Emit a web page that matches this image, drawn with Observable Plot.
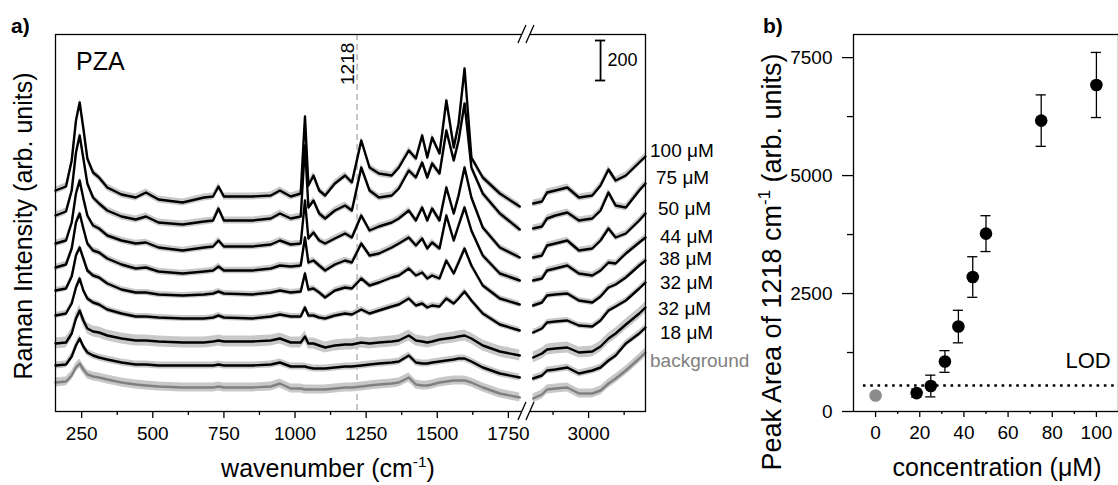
<!DOCTYPE html>
<html><head><meta charset="utf-8">
<script src="https://cdn.jsdelivr.net/npm/d3@7"></script>
<script src="https://cdn.jsdelivr.net/npm/@observablehq/plot@0.6"></script>
<style>
body{margin:0;background:#fff;}
#wrap{position:relative;width:1118px;height:485px;overflow:hidden;}
#left{position:absolute;left:0;top:0;width:730px;height:485px;}
#right{position:absolute;left:730px;top:0;width:388px;height:485px;}
</style></head><body><div id="wrap"><div id="left"></div><div id="right"></div></div>
<script>
// ---------------- DATA ----------------
const wavenumbers = [158,195,215,230,243,256,270,290,311,340, 390,440,476,520,605,680,712,731,750,850,
  915,947,985,1020,1035,1047,1065,1085,1106,1140, 1176,1200,1233,1262,1295,1340,1365,1400,1425,1447,
  1465,1482,1508,1532,1558,1575,1596,1620,1660,1720, 1790,
  2805,2836,2854,2883,2925,2966,3013,3042,3070,3095,3131,3178,3200];
const curveLabels = ["100 \u03bcM","75 \u03bcM","50 \u03bcM","44 \u03bcM","38 \u03bcM","32 \u03bcM","32 \u03bcM","18 \u03bcM","background"];
const spec100 = [1105,1125,1255,1455,1545,1415,1265,1195,1170,1120, 1085,1070,1095,1060,1045,1070,1075,1125,1075,1075,
  1080,1105,1075,1090,1475,1130,1180,1105,1080,1140, 1180,1145,1355,1220,1190,1180,1220,1305,1265,1380,
  1270,1370,1290,1555,1320,1440,1715,1270,1170,1090, 1025,
  1040,1050,1095,1105,1120,1070,1080,1130,1210,1155,1180,1245,1275];
const spec75 = [980,1000,1105,1295,1380,1265,1140,1070,1040,1005, 975,960,975,945,935,950,955,1015,955,955,
  965,990,965,975,1330,1020,1055,990,965,1005, 1030,1005,1220,1105,1070,1080,1115,1205,1170,1245,
  1170,1240,1190,1405,1255,1355,1540,1220,1090,990, 910,
  915,925,965,980,995,955,965,1005,1095,1030,1020,1105,1140];
const spec50 = [840,855,945,1090,1155,1065,980,930,915,880, 855,840,845,820,805,820,825,855,825,825,
  835,855,835,840,1055,865,895,855,840,865, 890,870,980,905,925,945,965,1005,955,1020,
  955,1015,955,1120,990,1080,1220,1070,920,820, 770,
  770,780,830,840,855,805,815,855,915,870,890,955,990];
const spec44 = [720,735,815,945,990,915,840,805,795,765, 735,715,720,700,690,700,705,725,705,705,
  715,730,725,730,870,745,755,730,705,735, 755,745,840,780,790,820,840,870,830,865,
  815,845,815,980,855,930,1020,905,780,690, 655,
  655,665,705,715,730,690,680,705,745,740,790,845,870];
const spec38 = [605,615,675,780,820,765,705,680,670,640, 610,595,595,585,580,585,590,600,590,585,
  595,605,595,600,690,610,615,595,570,605, 620,615,665,630,645,670,680,715,680,695,
  665,680,665,755,690,745,815,730,630,565, 535,
  530,545,580,585,590,555,545,575,620,635,670,730,755];
const spec32a = [480,490,540,620,665,605,565,545,535,510, 490,475,475,470,465,465,470,480,470,465,
  475,485,475,475,520,480,480,470,465,480, 490,485,510,490,505,525,535,565,530,540,
  520,530,525,565,540,565,600,555,490,435, 405,
  395,415,445,450,455,430,425,455,505,525,555,615,645];
const spec32b = [340,345,390,465,505,455,415,400,395,380, 365,355,355,350,345,345,350,355,350,350,
  355,365,345,345,375,340,340,330,320,330, 335,335,345,340,345,350,355,380,355,350,
  345,350,360,365,370,375,380,365,330,300, 280,
  270,290,310,315,320,295,300,325,365,390,435,490,520];
const spec18 = [230,235,275,330,365,325,295,280,270,260, 245,235,235,230,230,230,230,235,230,230,
  235,245,225,225,225,220,215,215,215,220, 225,225,230,235,240,245,250,280,245,240,
  240,245,250,255,260,265,265,250,220,190, 170,
  165,180,205,210,220,190,205,220,255,280,340,390,420];
const specBg = [145,150,180,220,240,210,185,175,170,160, 145,135,130,125,120,120,120,125,120,120,
  125,140,115,115,110,110,110,110,110,115, 120,120,125,130,135,140,145,170,135,130,
  130,135,145,150,155,155,155,145,120,90, 70,
  65,85,110,115,120,90,90,105,140,165,205,265,295];
const spectrumSpread = [17,17,16,16,15,15,28,17,22];
const majorTicksA = [250,500,750,1000,1250,1500,1750,3000];
const minorTicksA = [375,625,875,1125,1375,1625,2875,3125];
const markerWavenumber = 1218;
const scaleBarLength = 200;

const concentration = [0,18.6,25,31.4,37.5,44,50,75,100];
const peakArea = [340,390,540,1060,1800,2850,3770,6165,6920];
const peakErr = [60,85,230,230,345,430,380,545,690];
const lodValue = 550;
const majorTicksBx = [0,20,40,60,80,100];
const minorTicksBx = [10,30,50,70,90];
const majorTicksBy = [0,2500,5000,7500];
const minorTicksBy = [1250,3750,6250];

// ---------------- LAYOUT ----------------
const FONT = '"Liberation Sans", Arial, Helvetica, sans-serif';
const GAP_AT = 2000, GAP_SHIFT = 968;
const brk = w => w < GAP_AT ? w : w - GAP_SHIFT;
const specs = [spec100, spec75, spec50, spec44, spec38, spec32a, spec32b, spec18, specBg];
const rows = specs.flatMap((s, i) => s.map((v, j) => ({
  i, w: wavenumbers[j], v, sd: spectrumSpread[i], seg: wavenumbers[j] < GAP_AT ? 0 : 1
})));
const keyOf = d => d.i + "-" + d.seg;

const left = Plot.plot({
  width: 730, height: 485,
  marginLeft: 55, marginRight: 85, marginTop: 34, marginBottom: 74,
  style: {fontFamily: FONT, fontSize: "19px", color: "#000", background: "none", overflow: "visible", maxWidth: "none"},
  x: {domain: [158, brk(3200)]},
  y: {domain: [0, 1885], axis: null},
  marks: [
    Plot.ruleX([markerWavenumber], {x: brk, stroke: "#a8a8a8", strokeWidth: 1.3, strokeDasharray: "6,4"}),
    Plot.areaY(rows, {x: d => brk(d.w), y1: d => d.v - d.sd, y2: d => d.v + d.sd, z: keyOf, fill: "#c8c8c8"}),
    Plot.line(rows, {x: d => brk(d.w), y: "v", z: keyOf, stroke: d => d.i === 8 ? "#808080" : "#000000", strokeWidth: 2.4, strokeLinejoin: "round"}),
    Plot.frame({stroke: "#000", strokeWidth: 1.3}),
    Plot.axisX({ticks: majorTicksA.map(brk), tickFormat: d => String(d > 1900 ? d + GAP_SHIFT : d), tickSize: 7, tickPadding: 8, strokeWidth: 1.3, label: null}),
    Plot.axisX({ticks: minorTicksA.map(brk), tickFormat: () => "", tickSize: 4, strokeWidth: 1.3, label: null}),
    // scale bar
    Plot.ruleX([brk(3042)], {x: d => d, y1: 1855 - scaleBarLength, y2: 1855, stroke: "#000", strokeWidth: 1.8}),
    Plot.ruleY([1855 - scaleBarLength, 1855], {x1: brk(3024), x2: brk(3060), stroke: "#000", strokeWidth: 1.8}),
    Plot.text([String(scaleBarLength)], {x: () => brk(3066), y: () => 1855 - scaleBarLength / 2, textAnchor: "start", fontSize: 18})
  ]
});
document.getElementById("left").appendChild(left);

const pts = concentration.map((c, k) => ({c, a: peakArea[k], e: peakErr[k], bg: c === 0}));
const capHalf = 2.3;
const right = Plot.plot({
  width: 388, height: 485,
  marginLeft: 123, marginRight: 0, marginTop: 34, marginBottom: 74,
  style: {fontFamily: FONT, fontSize: "19px", color: "#000", background: "none", overflow: "visible", maxWidth: "none"},
  x: {domain: [-10, 110]},
  y: {domain: [0, 7990]},
  marks: [
    Plot.ruleY([lodValue], {x1: -5.5, x2: 110, stroke: "#000", strokeWidth: 2.6, strokeDasharray: "2.6,4.7"}),
    Plot.ruleX(pts.filter(d => !d.bg), {x: "c", y1: d => d.a - d.e, y2: d => d.a + d.e, stroke: "#000", strokeWidth: 1.3}),
    Plot.ruleY(pts.filter(d => !d.bg), {y: d => d.a + d.e, x1: d => d.c - capHalf, x2: d => d.c + capHalf, stroke: "#000", strokeWidth: 1.3}),
    Plot.ruleY(pts.filter(d => !d.bg), {y: d => d.a - d.e, x1: d => d.c - capHalf, x2: d => d.c + capHalf, stroke: "#000", strokeWidth: 1.3}),
    Plot.dot(pts, {x: "c", y: "a", r: 6.3, fill: d => d.bg ? "#8c8c8c" : "#000000", stroke: "none"}),
    Plot.text(["LOD"], {x: () => 106.5, y: () => 1080, textAnchor: "end", fontSize: 22}),
    Plot.frame({stroke: "#000", strokeWidth: 1.3}),
    Plot.axisX({ticks: majorTicksBx, tickSize: 6, tickPadding: 8, strokeWidth: 1.3, tickFormat: d => String(d), label: null}),
    Plot.axisX({ticks: minorTicksBx, tickSize: 3, strokeWidth: 1.3, tickFormat: () => "", label: null}),
    Plot.axisY({ticks: majorTicksBy, tickSize: 11, tickPadding: 10, strokeWidth: 1.3, tickFormat: d => String(d), label: null}),
    Plot.axisY({ticks: minorTicksBy, tickSize: 6, strokeWidth: 1.3, tickFormat: () => "", label: null})
  ]
});
document.getElementById("right").appendChild(right);

// ---------------- ANNOTATIONS ----------------
function addText(svg, o) {
  const size = o.size;
  const t = svg.append("text")
    .attr("transform", `translate(${o.x},${o.y}) rotate(${o.rotate || 0})`)
    .attr("text-anchor", o.anchor || "start")
    .attr("font-family", FONT).attr("font-size", size)
    .attr("fill", o.fill || "#000");
  if (o.weight) t.attr("font-weight", o.weight);
  let raised = false;
  o.parts.forEach(p => {
    if (typeof p === "string") {
      const s = t.append("tspan").text(p);
      if (raised) { s.attr("dy", size * 0.42); raised = false; }
    } else {
      t.append("tspan").attr("dy", -size * 0.42).attr("font-size", size * 0.62).text(p.sup);
      raised = true;
    }
  });
  return t;
}
const L = d3.select(left), R = d3.select(right);
const xs = left.scale("x");

addText(L, {x: 11, y: 33, parts: ["a)"], size: 21, weight: "bold"});
addText(L, {x: 32, y: 226, rotate: -90, anchor: "middle", parts: ["Raman Intensity (arb. units)"], size: 25});
addText(L, {x: 328, y: 477, anchor: "middle", parts: ["wavenumber (cm", {sup: "-1"}, ")"], size: 25});
addText(L, {x: 76, y: 70, parts: ["PZA"], size: 25});
addText(L, {x: xs.apply(markerWavenumber) - 3, y: 85, rotate: -90, parts: [String(markerWavenumber)], size: 19});

// curve labels on the right of panel a
const labelDx = [5, 11, 13, 15, 14, 15, 13, 15, 5];
const labelYc = [150, 177, 208, 236, 258, 282, 308, 332, 360];
curveLabels.forEach((lab, k) => {
  addText(L, {x: 645 + labelDx[k], y: labelYc[k] + 7, parts: [lab], size: 19, fill: k === 8 ? "#808080" : "#000"});
});

// axis break marks
const gx = (xs.apply(1790) + xs.apply(brk(2805))) / 2;
[34, 411].forEach(yy => {
  L.append("rect").attr("x", gx - 4).attr("y", yy - 2).attr("width", 8).attr("height", 4).attr("fill", "#fff");
  [gx - 4, gx + 4].forEach(xc => L.append("line")
    .attr("x1", xc - 4).attr("y1", yy + 9).attr("x2", xc + 4).attr("y2", yy - 9)
    .attr("stroke", "#000").attr("stroke-width", 1.3));
});

addText(R, {x: 33, y: 33, parts: ["b)"], size: 21, weight: "bold"});
addText(R, {x: 51, y: 262, rotate: -90, anchor: "middle", parts: ["Peak Area of 1218 cm", {sup: "-1"}, " (arb. units)"], size: 27});
addText(R, {x: 267, y: 476, anchor: "middle", parts: ["concentration (\u03bcM)"], size: 25});
</script>
</body></html>
